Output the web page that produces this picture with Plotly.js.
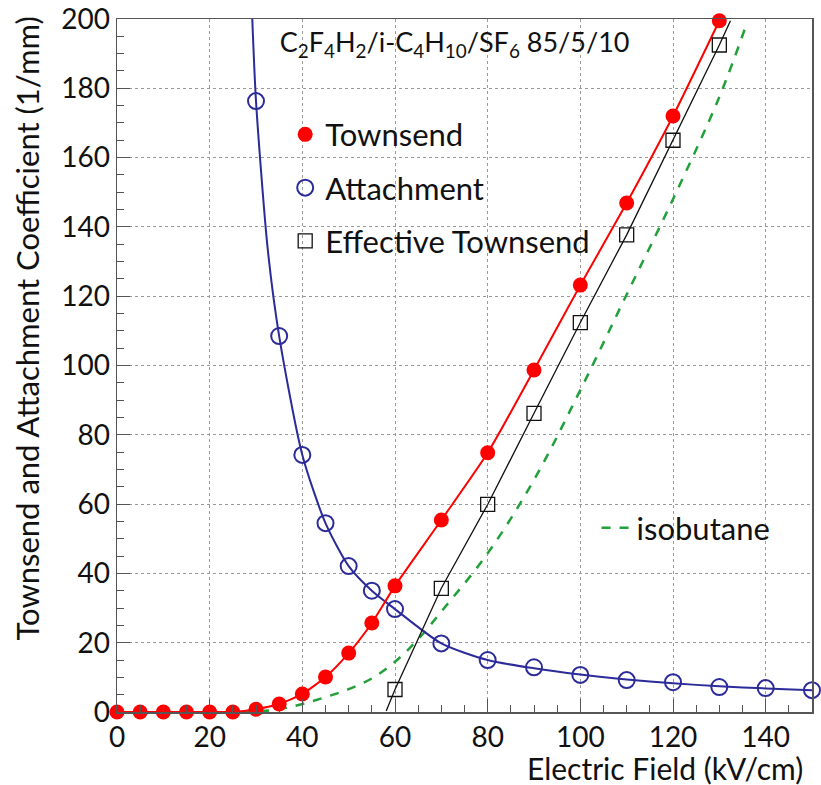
<!DOCTYPE html>
<html>
<head>
<meta charset="utf-8">
<script src="https://cdn.plot.ly/plotly-3.0.1.min.js"></script>
<style>html,body{margin:0;padding:0;background:#fff;}#chart{width:821px;height:785px;}</style>
</head>
<body>
<div id="chart"></div>
<script>
// ---- data ----
const fieldTown = [0,5,10,15,20,25,30,35,40,45,50,55,60,70,80,90,100,110,120,130];
const townsend  = [0,0,0,0,0,0,0.8,2.3,5.2,10.1,17,25.7,36.4,55.4,74.8,98.7,123.2,146.9,172,199.5];

const fieldAtt   = [30,35,40,45,50,55,60,70,80,90,100,110,120,130,140,150];
const attachment = [176.3,108.5,74.2,54.5,42.1,35.0,29.7,19.8,15.0,12.9,10.7,9.2,8.6,7.2,6.9,6.3];

const fieldEff     = [60,70,80,90,100,110,120,130];
const effTownsend  = [6.5,35.7,59.9,86.2,112.4,137.7,165,192.5];

// fitted curves drawn through the points
const attFitField = [29.2,30,32.5,35,40,45,50,55,60,70,80,90,100,110,120,130,140,150];
const attFit      = [200,176.3,134,108.5,74.2,54.5,42.1,35.0,29.7,19.8,15.0,12.6,10.8,9.4,8.3,7.4,6.8,6.3];
const effFitField = [58.1,60,70,80,90,100,110,120,130,132.4];
const effFit      = [0.3,6.5,35.7,59.9,86.2,112.4,137.7,165,192.5,199.5];

const isoField = [27,30,35,40,45,50,55,60,65,70,80,90,100,110,120,130,136];
const isobutane = [0,0.2,0.8,2.3,4.3,6.6,9.7,14.5,21,29,45.8,67,92.9,120.5,148,177.5,199];

const labels = {
  title: 'C<sub>2</sub>F<sub>4</sub>H<sub>2</sub>/i-C<sub>4</sub>H<sub>10</sub>/SF<sub>6</sub> 85/5/10',
  x: 'Electric Field (kV/cm)',
  y: 'Townsend and Attachment Coefficient (1/mm)',
  town: 'Townsend', att: 'Attachment', eff: 'Effective Townsend', iso: 'isobutane'
};

const RED = '#ff0000', BLUE = '#2b2b99', GREEN = '#22a03a', BLACK = '#111111';
const FONT = 'Lato, "Noto Sans", sans-serif';

const traces = [
  {x: isoField, y: isobutane, mode: 'lines', line: {color: GREEN, width: 2.5, dash: 'dash', shape: 'spline'},
   name: labels.iso, legend: 'legend2', showlegend: true, hoverinfo: 'skip'},
  {x: attFitField, y: attFit, mode: 'lines', line: {color: BLUE, width: 2, shape: 'spline', smoothing: 0.7},
   showlegend: false, hoverinfo: 'skip'},
  {x: effFitField, y: effFit, mode: 'lines', line: {color: BLACK, width: 1.3}, showlegend: false, hoverinfo: 'skip'},
  {x: fieldTown, y: townsend, mode: 'lines', line: {color: RED, width: 2, shape: 'spline', smoothing: 0.6},
   showlegend: false, hoverinfo: 'skip'},
  {x: fieldTown, y: townsend, mode: 'markers', name: labels.town, legendgroup: 'a',
   marker: {color: RED, size: 15, symbol: 'circle'}, cliponaxis: false},
  {x: fieldAtt, y: attachment, mode: 'markers', name: labels.att, legendgroup: 'b',
   marker: {color: BLUE, size: 16, symbol: 'circle-open', line: {color: BLUE, width: 2}}, cliponaxis: false},
  {x: fieldEff, y: effTownsend, mode: 'markers', name: labels.eff, legendgroup: 'c',
   marker: {color: BLACK, size: 14, symbol: 'square-open', line: {color: BLACK, width: 1.3}}, cliponaxis: false}
];

const axisCommon = {
  showline: true, mirror: true, linecolor: '#555', linewidth: 1.5,
  ticks: 'inside', ticklen: 13, tickwidth: 1, tickcolor: '#555',
  showgrid: true, gridcolor: '#9a9a9a', gridwidth: 1, griddash: 'dot',
  zeroline: false, dtick: 20,
  tickfont: {family: FONT, size: 28, color: '#111'},
  minor: {dtick: 5, ticks: 'inside', ticklen: 7, tickcolor: '#555', showgrid: false}
};

const layout = {
  width: 821, height: 785,
  margin: {l: 117, r: 9, t: 19, b: 73},
  paper_bgcolor: '#fff', plot_bgcolor: '#fff',
  font: {family: FONT, color: '#111'},
  title: {text: labels.title, font: {family: FONT, size: 27, color: '#111'},
          xref: 'paper', x: 0.234, xanchor: 'left', yref: 'container', y: 1 - 43/785, yanchor: 'middle'},
  xaxis: Object.assign({}, axisCommon, {range: [0, 150], tick0: 0}),
  yaxis: Object.assign({}, axisCommon, {range: [0, 200], tick0: 0}),
  legend: {x: 0.242, y: 0.872, xanchor: 'left', yanchor: 'top', bgcolor: 'rgba(0,0,0,0)',
           font: {family: FONT, size: 31, color: '#111'}, tracegroupgap: 10, traceorder: 'grouped'},
  legend2: {x: 0.69, y: 0.2655, xanchor: 'left', yanchor: 'middle', bgcolor: 'rgba(0,0,0,0)',
            font: {family: FONT, size: 31, color: '#111'}},
  annotations: [
    {text: labels.x, xref: 'paper', yref: 'paper', x: 0.99, y: -0.081, xanchor: 'right', yanchor: 'middle',
     showarrow: false, font: {family: FONT, size: 30, color: '#111'}},
    {text: labels.y, xref: 'paper', yref: 'paper', x: -0.13, y: 1.006, xanchor: 'center', yanchor: 'top',
     textangle: -90, showarrow: false, font: {family: FONT, size: 31, color: '#111'}}
  ]
};

Plotly.newPlot('chart', traces, layout, {displayModeBar: false, staticPlot: true});
</script>
</body>
</html>
